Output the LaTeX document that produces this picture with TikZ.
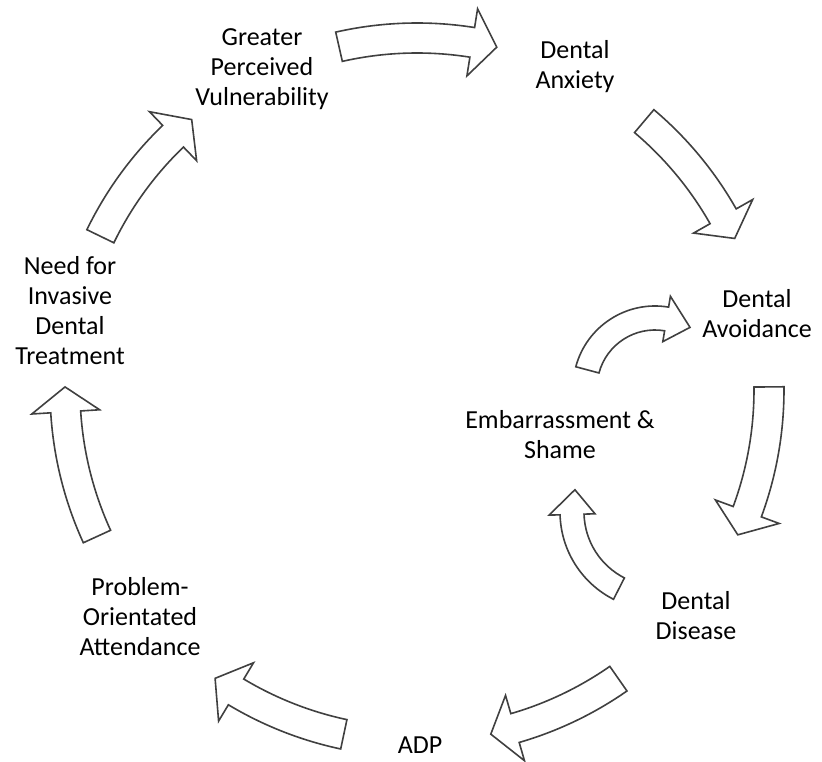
\documentclass[tikz,border=0pt]{standalone}
\usepackage{fontspec}
\setmainfont{Carlito}
\begin{document}
\begin{tikzpicture}[x=0.75pt,y=0.75pt,
  blockarrow/.style={draw=black!75,line width=1.2pt,fill=white,line join=miter},
  label/.style={align=center,font=\fontsize{19.5}{22.5}\selectfont,text=black,inner sep=0pt}]
\useasboundingbox (0,0) rectangle (822,762);

% curved block arrow along a circle, running clockwise
% #1,#2 centre  #3 radius  #4 tail angle  #5 tip angle
% #6 half body width  #7 half head width  #8 head length
\newcommand\bendarrow[8]{%
  \pgfmathsetmacro\aHead{#5+#8/#3*180/pi}%
  \pgfmathsetmacro\rOut{#3+#6}\pgfmathsetmacro\rIn{#3-#6}%
  \pgfmathsetmacro\rBarbO{#3+#7}\pgfmathsetmacro\rBarbI{#3-#7}%
  \draw[blockarrow,shift={(#1,#2)}]
    (#4:\rOut) arc[start angle=#4,end angle=\aHead,radius=\rOut]
    -- (\aHead:\rBarbO) -- (#5:#3) -- (\aHead:\rBarbI) -- (\aHead:\rIn)
    arc[start angle=\aHead,end angle=#4,radius=\rIn] -- cycle;}

% outer cycle
\bendarrow{417}{372}{352}{102.8}{76.9}{15}{34}{25}
\bendarrow{417}{372}{352}{49.8}{25.5}{15}{34}{25}
\bendarrow{417}{372}{352}{0.5}{-24.3}{15}{34}{25}
\bendarrow{417}{372}{352}{-55.1}{-77.9}{15}{34}{25}
\bendarrow{417}{372}{352}{-102}{-125}{15}{34}{25}
\bendarrow{417}{372}{352}{-155.4}{-180.5}{15}{34}{25}
\bendarrow{417}{372}{352}{154.1}{129.8}{15}{34}{25}

% inner loop
\bendarrow{655}{374}{70}{165}{60}{12}{23}{25}
\bendarrow{658}{250}{86}{-117}{-195}{12}{23}{25}

% labels
\node[label] (vuln) at (262,693) {Greater\\Perceived\\Vulnerability};
\node[label] (anx) at (575,695) {Dental\\Anxiety};
\node[label] (avoid) at (757,448) {Dental\\Avoidance};
\node[label] (shame) at (560,327) {Embarrassment \&\\Shame};
\node[label] (disease) at (696,146) {Dental\\Disease};
\node[label] (adp) at (420,17) {ADP};
\node[label] (poa) at (140,145) {Problem-\\Orientated\\Attendance};
\node[label] (need) at (70,451) {Need for\\Invasive\\Dental\\Treatment};
\end{tikzpicture}
\end{document}
